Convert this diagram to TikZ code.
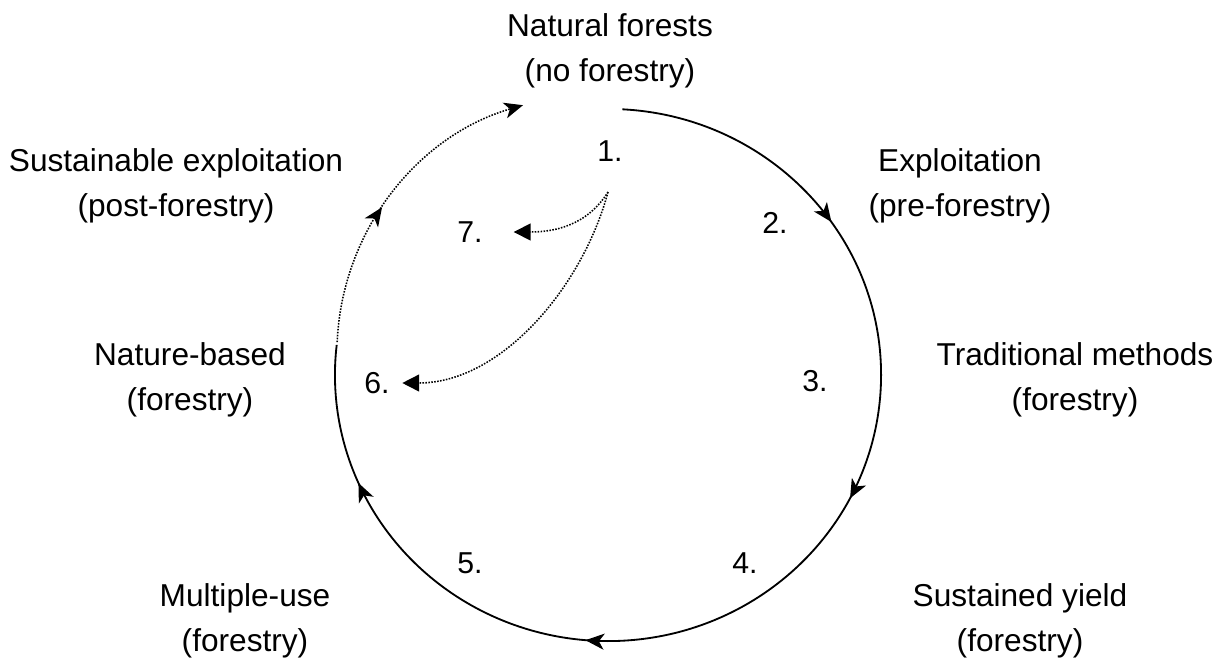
\documentclass[tikz,border=0pt]{standalone}
\usepackage{fontspec}
\setmainfont{Liberation Sans}
\usetikzlibrary{arrows.meta, positioning, calc, decorations.markings}

\begin{document}
\begin{tikzpicture}[
        x=0.025cm, y=0.025cm,
        stage/.style = {align=center, inner sep=0pt, font=\fontsize{22.5}{32}\selectfont},
        num/.style = {inner sep=0pt},
        cycle/.style = {line width=1.3pt},
        back/.style = {line width=1.1pt, densely dotted},
        font = \fontsize{21.5}{32}\selectfont,
        >={Stealth[length=0.47cm, width=0.4cm, inset=0.13cm]},
    ]
        \useasboundingbox (0,0) rectangle (1227,-671);
        % Stadien rund um den Kreis
        \node[stage] (S1) at (610,-51) {Natural forests\\(no forestry)};
        \node[stage] (S2) at (960,-186) {Exploitation\\(pre-forestry)};
        \node[stage] (S3) at (1075,-380) {Traditional methods\\(forestry)};
        \node[stage] (S4) at (1020,-621) {Sustained yield\\(forestry)};
        \node[stage] (S5) at (245,-621) {Multiple-use\\(forestry)};
        \node[stage] (S6) at (190,-380) {Nature-based\\(forestry)};
        \node[stage] (S7) at (176,-186) {Sustainable exploitation\\(post-forestry)};
        % Nummern innen
        \foreach \n/\x/\y in {1/610/151, 2/775/223, 3/815/381, 4/745/563, 5/470/563, 6/377/383, 7/470/232}{
            \node[num] (N\n) at (\x,-\y) {\n.};
        }
        % Hilfspunkte
        \coordinate (C0) at (608,-375);
        \coordinate (C1) at (595,-353);
        \coordinate (A0) at ($(C0)+(87:6.825cm and 6.65cm)$);
        \coordinate (A1) at ($(C1)+(177.6:6.45cm)$);
        \coordinate (Src) at (608,-192);

        \draw[cycle, postaction={decorate}, decoration={markings,
                mark=at position 0.191 with {\arrow{>}},
                mark=at position 0.418 with {\arrow{>}},
                mark=at position 0.665 with {\arrow{>}},
                mark=at position 0.890 with {\arrow{>}}}]
            (A0) arc[start angle=87, end angle=-186.5, x radius=6.825cm, y radius=6.65cm];
        \draw[back, ->, postaction={decorate}, decoration={markings,
                mark=at position 0.448 with {\arrow{>}}}]
            (A1) arc[start angle=177.6, end angle=106.2, radius=6.45cm];
        \draw[back, -{Triangle[length=0.42cm, width=0.42cm]}] (Src) to[out=-122, in=0] ([xshift=0.77cm]N7.east);
        \draw[back, -{Triangle[length=0.42cm, width=0.42cm]}] (Src) to[out=-105, in=0, looseness=0.9] ([xshift=0.31cm]N6.east);
    \end{tikzpicture}
\end{document}
